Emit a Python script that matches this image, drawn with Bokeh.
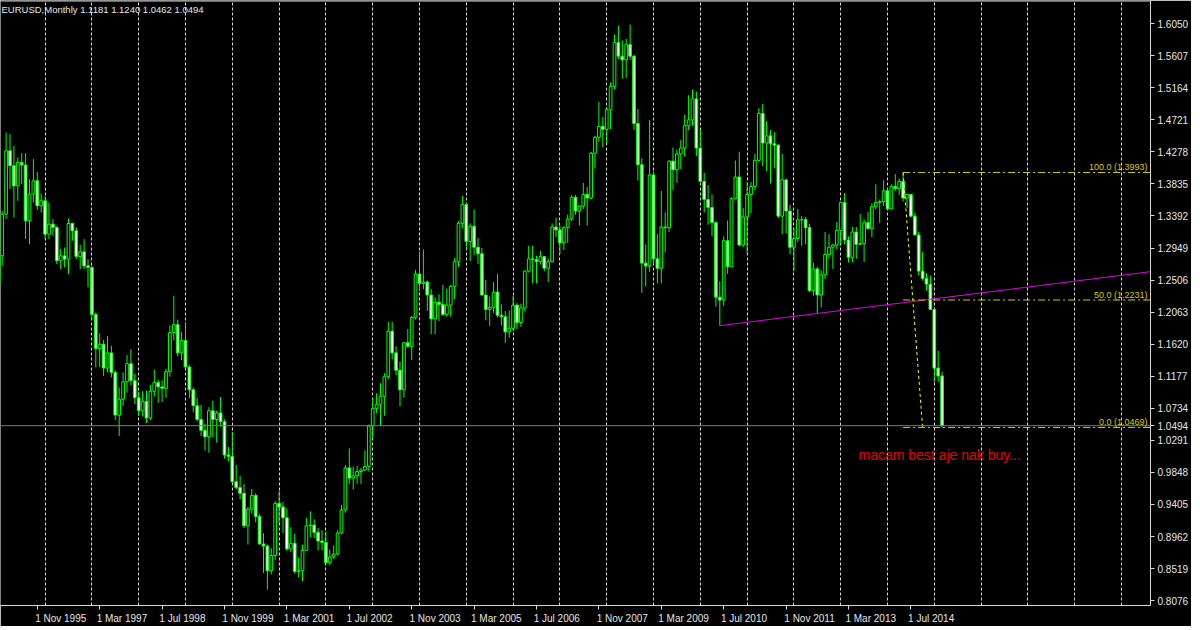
from bokeh.plotting import figure
from bokeh.models import ColumnDataSource, Range1d, FixedTicker, Span, Label, NumeralTickFormatter
from bokeh.embed import file_html
from bokeh.resources import INLINE

# ---------------- data ----------------
chart_title = "EURUSD,Monthly  1.1181 1.1240 1.0462 1.0494"
first_bar = (1994, 12)          # first monthly candle
first_open = 1.2449

closes = [
    1.2611,
    1.2842, 1.3417, 1.4293, 1.4086, 1.3808, 1.4132, 1.4095, 1.3325, 1.3694, 1.3878, 1.3533, 1.3602,
    1.3141, 1.3279, 1.3233, 1.2773, 1.2842, 1.2795, 1.3288, 1.3187, 1.2832, 1.2897, 1.2703, 1.2680,
    1.2030, 1.1560, 1.1620, 1.1290, 1.1500, 1.1230, 1.0640, 1.0860, 1.1100, 1.1350, 1.1120, 1.0880,
    1.0700, 1.0830, 1.0600, 1.0970, 1.1090, 1.1030, 1.1010, 1.1240, 1.1780, 1.1890, 1.1500, 1.1670,
    1.1305, 1.0990, 1.0770, 1.0580, 1.0430, 1.0340, 1.0700, 1.0580, 1.0670, 1.0550, 1.0090, 1.0070,
    0.9720, 0.9640, 0.9560, 0.9110, 0.9340, 0.9530, 0.9240, 0.8860, 0.8830, 0.8490, 0.8700, 0.9420,
    0.9370, 0.9220, 0.8790, 0.8870, 0.8480, 0.8490, 0.8770, 0.9110, 0.9120, 0.9020, 0.8900, 0.8880,
    0.8600, 0.8680, 0.8720, 0.9010, 0.9330, 0.9910, 0.9770, 0.9800, 0.9860, 0.9880, 0.9930, 1.0490,
    1.0730, 1.0790, 1.0900, 1.1170, 1.1800, 1.1500, 1.1260, 1.0990, 1.1640, 1.1590, 1.1990, 1.2590,
    1.2460, 1.2480, 1.2300, 1.1970, 1.2200, 1.2170, 1.2030, 1.2160, 1.2420, 1.2760, 1.3290, 1.3550,
    1.3040, 1.3250, 1.2960, 1.2870, 1.2300, 1.2100, 1.2130, 1.2340, 1.2020, 1.2000, 1.1790, 1.1840,
    1.2160, 1.1920, 1.2120, 1.2630, 1.2800, 1.2790, 1.2760, 1.2830, 1.2670, 1.2760, 1.3240, 1.3200,
    1.3020, 1.3230, 1.3350, 1.3650, 1.3460, 1.3530, 1.3690, 1.3640, 1.4260, 1.4480, 1.4630, 1.4590,
    1.4860, 1.5180, 1.5790, 1.5600, 1.5550, 1.5760, 1.5600, 1.4670, 1.4100, 1.2740, 1.2700, 1.3960,
    1.2800, 1.2670, 1.3240, 1.3230, 1.4150, 1.4030, 1.4250, 1.4330, 1.4640, 1.4720, 1.5010, 1.4330,
    1.3870, 1.3620, 1.3510, 1.3300, 1.2270, 1.2230, 1.3050, 1.2690, 1.3630, 1.3930, 1.2990, 1.3380,
    1.3690, 1.3800, 1.4160, 1.4810, 1.4400, 1.4500, 1.4390, 1.4370, 1.3390, 1.3890, 1.3460, 1.2960,
    1.3080, 1.3340, 1.3340, 1.3230, 1.2360, 1.2660, 1.2300, 1.2580, 1.2860, 1.2960, 1.2990, 1.3190,
    1.3580, 1.3060, 1.2820, 1.3170, 1.3000, 1.3010, 1.3300, 1.3220, 1.3520, 1.3580, 1.3590, 1.3740,
    1.3490, 1.3800, 1.3770, 1.3870, 1.3640, 1.3690, 1.3390, 1.3130, 1.2630, 1.2530, 1.2450, 1.2100,
    1.1290, 1.1181, 1.0494,
]
highs = [
    1.2700,
    1.3071, 1.3463, 1.4546, 1.4522, 1.4362, 1.4201, 1.4261, 1.4261, 1.3901, 1.4178, 1.4002, 1.3703,
    1.3670, 1.3579, 1.3348, 1.3256, 1.2933, 1.2956, 1.3357, 1.3300, 1.3233, 1.2994, 1.3071, 1.2795,
    1.2700, 1.2060, 1.1770, 1.1680, 1.1730, 1.1600, 1.1260, 1.1020, 1.1230, 1.1470, 1.1550, 1.1210,
    1.0960, 1.0970, 1.0980, 1.1060, 1.1270, 1.1130, 1.1120, 1.1280, 1.1880, 1.2290, 1.1960, 1.1790,
    1.1910, 1.1330, 1.1020, 1.0880, 1.0780, 1.0520, 1.0750, 1.0840, 1.0700, 1.0890, 1.0580, 1.0200,
    1.0410, 0.9950, 0.9800, 0.9690, 0.9370, 0.9620, 0.9560, 0.9270, 0.9010, 0.8850, 0.8800, 0.9450,
    0.9590, 0.9440, 0.9350, 0.9090, 0.9000, 0.8670, 0.8850, 0.9220, 0.9310, 0.9200, 0.9080, 0.9050,
    0.9030, 0.8780, 0.8840, 0.9050, 0.9400, 0.9950, 1.0180, 0.9930, 0.9940, 0.9910, 1.0150, 1.0510,
    1.0870, 1.0940, 1.1080, 1.1220, 1.1930, 1.1930, 1.1590, 1.1380, 1.1650, 1.1830, 1.2010, 1.2650,
    1.2900, 1.2930, 1.2500, 1.2380, 1.2270, 1.2310, 1.2440, 1.2390, 1.2440, 1.2810, 1.3320, 1.3670,
    1.3580, 1.3290, 1.3480, 1.3090, 1.2950, 1.2510, 1.2280, 1.2480, 1.2590, 1.2170, 1.2080, 1.2090,
    1.2290, 1.2190, 1.2180, 1.2640, 1.2980, 1.2980, 1.2840, 1.2910, 1.2840, 1.2800, 1.3290, 1.3370,
    1.3260, 1.3250, 1.3410, 1.3680, 1.3680, 1.3540, 1.3850, 1.3790, 1.4280, 1.4500, 1.4970, 1.4760,
    1.4900, 1.5240, 1.5900, 1.6020, 1.5820, 1.5840, 1.6038, 1.5620, 1.4870, 1.4190, 1.3000, 1.4720,
    1.4010, 1.3140, 1.3740, 1.3440, 1.4160, 1.4340, 1.4310, 1.4440, 1.4790, 1.5060, 1.5140, 1.5110,
    1.4580, 1.3990, 1.3820, 1.3690, 1.3320, 1.2490, 1.3110, 1.3330, 1.3650, 1.4160, 1.4280, 1.3500,
    1.3860, 1.3860, 1.4250, 1.4880, 1.4940, 1.4700, 1.4580, 1.4550, 1.4390, 1.4250, 1.3910, 1.3550,
    1.3230, 1.3490, 1.3390, 1.3380, 1.3280, 1.2750, 1.2690, 1.2640, 1.3170, 1.3140, 1.3010, 1.3310,
    1.3590, 1.3710, 1.3110, 1.3240, 1.3240, 1.3420, 1.3340, 1.3450, 1.3570, 1.3830, 1.3620, 1.3893,
    1.3770, 1.3830, 1.3970, 1.3910, 1.3993, 1.3700, 1.3700, 1.3440, 1.3170, 1.2890, 1.2600, 1.2570,
    1.2110, 1.1530, 1.1240,
]
lows = [
    1.2335,
    1.2400, 1.2703, 1.3350, 1.3762, 1.3371, 1.3602, 1.3831, 1.3071, 1.3002, 1.3579, 1.3476, 1.3440,
    1.3071, 1.3071, 1.3118, 1.2726, 1.2657, 1.2680, 1.2588, 1.3049, 1.2795, 1.2657, 1.2657, 1.2404,
    1.1950, 1.1300, 1.1300, 1.1180, 1.1230, 1.1160, 1.0570, 1.0350, 1.0770, 1.0950, 1.1050, 1.0790,
    1.0630, 1.0620, 1.0530, 1.0570, 1.0900, 1.0810, 1.0820, 1.0880, 1.1170, 1.1670, 1.1450, 1.1400,
    1.1289, 1.0875, 1.0680, 1.0550, 1.0350, 1.0150, 1.0120, 1.0330, 1.0260, 1.0480, 1.0040, 1.0000,
    0.9700, 0.9610, 0.9480, 0.9080, 0.8850, 0.9280, 0.9160, 0.8850, 0.8460, 0.8228, 0.8440, 0.8640,
    0.9150, 0.9010, 0.8760, 0.8750, 0.8450, 0.8400, 0.8344, 0.8770, 0.8950, 0.8940, 0.8770, 0.8770,
    0.8580, 0.8560, 0.8650, 0.8700, 0.9000, 0.9290, 0.9690, 0.9610, 0.9690, 0.9690, 0.9870, 0.9860,
    1.0330, 1.0670, 1.0500, 1.0630, 1.1140, 1.1410, 1.1190, 1.0760, 1.0880, 1.1570, 1.1400, 1.1960,
    1.2350, 1.2380, 1.2080, 1.1760, 1.1760, 1.1940, 1.2010, 1.2000, 1.2000, 1.2240, 1.2690, 1.3220,
    1.2930, 1.2770, 1.2850, 1.2730, 1.2290, 1.1950, 1.1870, 1.2050, 1.1990, 1.1880, 1.1640, 1.1710,
    1.1800, 1.1830, 1.1860, 1.2070, 1.2610, 1.2460, 1.2460, 1.2720, 1.2630, 1.2480, 1.2750, 1.3100,
    1.2870, 1.2920, 1.3020, 1.3320, 1.3410, 1.3260, 1.3490, 1.3260, 1.3620, 1.4050, 1.4420, 1.4340,
    1.4400, 1.4590, 1.5140, 1.5560, 1.5290, 1.5300, 1.5550, 1.4580, 1.3880, 1.2330, 1.2420, 1.2620,
    1.2730, 1.2460, 1.2460, 1.2890, 1.3170, 1.3750, 1.3850, 1.4040, 1.4210, 1.4580, 1.4640, 1.4220,
    1.3860, 1.3440, 1.3270, 1.3110, 1.2140, 1.1876, 1.2150, 1.2590, 1.2690, 1.3620, 1.2970, 1.2960,
    1.2870, 1.3430, 1.3750, 1.4140, 1.4080, 1.4010, 1.3840, 1.4050, 1.3360, 1.3140, 1.3150, 1.2860,
    1.2624, 1.3030, 1.2980, 1.3000, 1.2340, 1.2290, 1.2042, 1.2130, 1.2520, 1.2800, 1.2660, 1.2930,
    1.3000, 1.3000, 1.2750, 1.2750, 1.2800, 1.2990, 1.2755, 1.3200, 1.3100, 1.3480, 1.3300, 1.3530,
    1.3480, 1.3480, 1.3740, 1.3680, 1.3590, 1.3500, 1.3370, 1.3130, 1.2570, 1.2500, 1.2360, 1.2100,
    1.1100, 1.1100, 1.0462,
]

x_tick_labels = ["1 Jul 1994", "1 Nov 1995", "1 Mar 1997", "1 Jul 1998", "1 Nov 1999",
                 "1 Mar 2001", "1 Jul 2002", "1 Nov 2003", "1 Mar 2005", "1 Jul 2006",
                 "1 Nov 2007", "1 Mar 2009", "1 Jul 2010", "1 Nov 2011", "1 Mar 2013",
                 "1 Jul 2014"]
price_ticks = [1.6050, 1.5607, 1.5164, 1.4721, 1.4278, 1.3835, 1.3392, 1.2949, 1.2506,
               1.2063, 1.1620, 1.1177, 1.0734, 1.0291, 0.9848, 0.9405, 0.8962, 0.8519, 0.8076]
grid_years = list(range(1995, 2021))

fib_labels = ["100.0 (1.3993)", "50.0 (1.2231)", "0.0 (1.0469)"]
fib_prices = [1.3993, 1.2231, 1.0469]
fib_from = ((2014, 5), 1.3993)
fib_to = ((2014, 10), 1.0469)

trend_dates = [(2010, 6), (2012, 7)]
trend_prices = [1.1876, 1.2045]

bid_price = 1.0494
note_text = "macam best aje nak buy..."
note_at = ((2013, 3), 1.0082)

# ---------------- layout ----------------
MONTHS = {"Jan": 1, "Feb": 2, "Mar": 3, "Apr": 4, "May": 5, "Jun": 6,
          "Jul": 7, "Aug": 8, "Sep": 9, "Oct": 10, "Nov": 11, "Dec": 12}


def midx(y, m):
    return (y - 1994) * 12 + (m - 1)


PX_PER_MONTH = 3.9
PX_PER_UNIT = 723.6
FW, FH = 1150, 605
x0 = 12.564
x1 = x0 + FW / PX_PER_MONTH
y1 = 1.6370
y0 = y1 - FH / PX_PER_UNIT
FONT = "Liberation Sans"

n = len(closes)
opens = [first_open] + closes[:-1]
start = midx(*first_bar)
xs = [start + i for i in range(n)]
src = ColumnDataSource(dict(
    x=xs, high=highs, low=lows,
    top=[max(o, c) for o, c in zip(opens, closes)],
    bottom=[min(o, c) for o, c in zip(opens, closes)],
    fill=["black" if c >= o else "white" for o, c in zip(opens, closes)],
))

p = figure(frame_width=FW, frame_height=FH, x_range=Range1d(x0, x1), y_range=Range1d(y0, y1),
           output_backend="svg", toolbar_location=None, y_axis_location="right",
           background_fill_color="black", border_fill_color="black",
           min_border_left=0, min_border_top=0, min_border_right=0, min_border_bottom=0)
p.outline_line_color = None

# grid (vertical, yearly)
p.xgrid.ticker = FixedTicker(ticks=[midx(y, 1) for y in grid_years])
p.xgrid.grid_line_color = "#d8d8d8"
p.xgrid.grid_line_dash = "3 2"
p.xgrid.grid_line_width = 1
p.ygrid.visible = False

# top border line
p.add_layout(Span(location=y1 - 0.5 / PX_PER_UNIT, dimension="width", line_color="#d8d8d8", line_width=1))

# bid line
p.add_layout(Span(location=bid_price, dimension="width", line_color="#6f7f8f", line_width=1))

# candles
p.segment(x0="x", y0="low", x1="x", y1="high", source=src, line_color="#00ff00", line_width=1)
p.vbar(x="x", width=0.7, top="top", bottom="bottom", source=src,
       fill_color="fill", line_color="#00ff00", line_width=1)

# trend line (ray)
ta = midx(*trend_dates[0])
tb = midx(*trend_dates[1])
slope = (trend_prices[1] - trend_prices[0]) / (tb - ta)
p.line([ta, x1], [trend_prices[0], trend_prices[0] + slope * (x1 - ta)],
       line_color="#e000e0", line_width=1)

# fibonacci
fa = midx(*fib_from[0])
fb = midx(*fib_to[0])
p.line([fa, fb], [fib_from[1], fib_to[1]], line_color="#ffff00", line_width=1, line_dash="3 3")
for lab, lvl in zip(fib_labels, fib_prices):
    p.line([fa, x1], [lvl, lvl], line_color="#cccc00", line_width=1, line_dash="7 3 2 3")
    p.add_layout(Label(x=x1, y=lvl, text=lab, text_align="right", text_baseline="bottom",
                       x_offset=-3, text_color="#d8c800", text_font_size="9px",
                       text_font=FONT))

# note
p.add_layout(Label(x=midx(*note_at[0]) + 2.56, y=note_at[1], text=note_text,
                   text_baseline="middle", text_color="#e80000", text_font_size="14px",
                   text_font=FONT))

# title
p.add_layout(Label(x=x0, y=y1, text=chart_title, text_baseline="top", x_offset=1, y_offset=-3,
                   text_color="#e6e6e6", text_font_size="9.5px", text_font=FONT))

# bottom axis: minor ticks mark the dates, labels sit to the right of them
offsets = {"Nov": 6.0, "Mar": 5.7, "Jul": 5.2}
tick_pos, centers, overrides = [], [], {}
for lab in x_tick_labels:
    _, mon, yr = lab.split()
    t = midx(int(yr), MONTHS[mon])
    c = t + offsets[mon]
    tick_pos.append(t)
    centers.append(c)
    overrides[c] = lab
xa = p.xaxis[0]
xa.ticker = FixedTicker(ticks=centers, minor_ticks=tick_pos)
xa.major_label_overrides = overrides
xa.major_tick_out = 0
xa.major_tick_in = 0
xa.minor_tick_out = 4
xa.minor_tick_in = 0
xa.minor_tick_line_color = "#e0e0e0"
xa.axis_line_color = "#d8d8d8"
xa.major_label_text_color = "#e6e6e6"
xa.major_label_text_font_size = "10px"
xa.major_label_text_font = FONT
xa.major_label_standoff = 3

# right price axis (the current bid is marked on the scale as well)
ya = p.yaxis[0]
ya.ticker = FixedTicker(ticks=sorted(price_ticks + [bid_price]))
ya.formatter = NumeralTickFormatter(format="0.0000")
ya.axis_line_color = "#d8d8d8"
ya.major_tick_line_color = "#d8d8d8"
ya.major_tick_out = 4
ya.major_tick_in = 0
ya.minor_tick_line_color = None
ya.major_label_text_color = "#e6e6e6"
ya.major_label_text_font_size = "10px"
ya.major_label_text_font = FONT
ya.major_label_standoff = 3

open("out.html", "w").write(file_html(p, INLINE))
